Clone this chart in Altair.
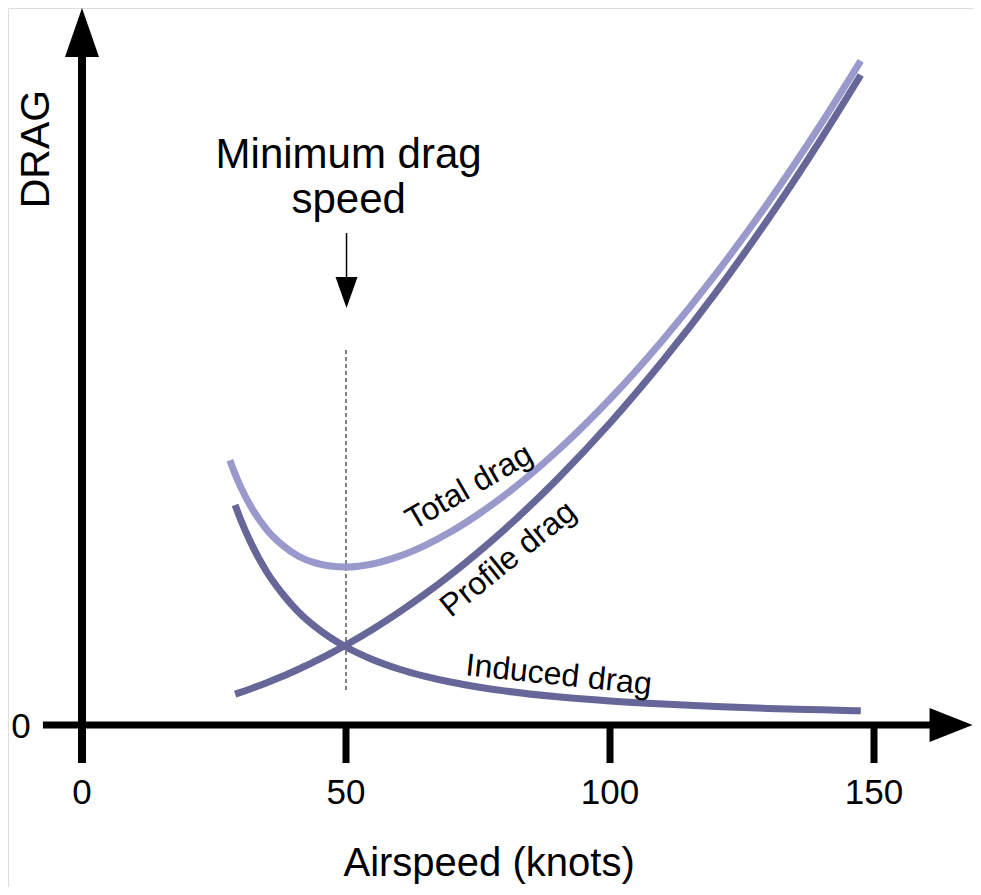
import altair as alt
import pandas as pd

# ---------------- data (arbitrary drag units) ----------------
speed_iv = [29, 30, 32, 35, 38, 41, 44, 47, 50, 55, 60, 65, 70, 75, 80, 90, 100, 110, 120, 130, 140, 147.5]
induced_drag = [220, 206, 182, 153, 131, 113, 99, 87.5, 78, 65.5, 56, 48.6, 42.7, 38, 34.1, 28.2, 24, 20.9, 18.5, 16.6, 15.2, 14.2]
profile_drag = [30.9, 32.6, 36.3, 42.3, 48.7, 55.8, 63.3, 71.4, 80, 95.5, 112.6, 131.1, 151, 172.5, 195.4, 245.8, 302, 364.2, 432.2, 506.2, 586.2, 650]
speed_total = [28, 29, 30, 32, 35, 38, 41, 44, 47, 50, 55, 60, 65, 70, 75, 80, 90, 100, 110, 120, 130, 140, 147.5]
total_drag = [264.7, 250.9, 238.6, 218.3, 195.3, 179.7, 168.8, 162.3, 158.9, 158, 161, 168.6, 179.7, 193.7, 210.5, 229.5, 274, 326, 385.1, 450.7, 522.8, 601.4, 664.2]

tick_values = [0, 50, 100, 150]
tick_labels = ["0", "50", "100", "150"]
min_drag_speed = 50

# ---------------- layout ----------------
W, H = 965, 879
PPK = 5.28            # pixels per knot
X0 = 74               # plot-x of 0 knots
Y0 = 717              # plot-y of 0 drag
x_dom = [-X0 / PPK, (W - X0) / PPK]
y_dom = [Y0 - H, Y0]

xs = alt.Scale(domain=x_dom, nice=False, zero=False)
ys = alt.Scale(domain=y_dom, nice=False, zero=False)

FONT = "Liberation Sans"
DARK = "#666699"
LIGHT = "#9999cc"

rows = []
for s, d in zip(speed_total, total_drag):
    rows.append({"speed": s, "drag": d, "series": "Total drag"})
for s, d in zip(speed_iv, profile_drag):
    rows.append({"speed": s, "drag": d, "series": "Profile drag"})
for s, d in zip(speed_iv, induced_drag):
    rows.append({"speed": s, "drag": d, "series": "Induced drag"})
curves = pd.DataFrame(rows)

lines = alt.Chart(curves).mark_line(strokeWidth=7, strokeCap="butt", interpolate="monotone").encode(
    x=alt.X("speed:Q", scale=xs, axis=None),
    y=alt.Y("drag:Q", scale=ys, axis=None),
    color=alt.Color("series:N", scale=alt.Scale(domain=["Total drag", "Profile drag", "Induced drag"],
                                                range=[LIGHT, DARK, DARK]), legend=None),
    detail="series:N",
)


def vrule(x, y, y2, width, color="black", dash=None):
    kw = dict(strokeWidth=width, color=color, strokeCap="butt")
    if dash:
        kw["strokeDash"] = dash
    return alt.Chart(pd.DataFrame({"x": [x], "y": [y], "y2": [y2]})).mark_rule(**kw).encode(
        x=alt.X("x:Q", scale=xs, axis=None), y=alt.Y("y:Q", scale=ys, axis=None), y2="y2:Q")


def hrule(x, x2, y, width):
    return alt.Chart(pd.DataFrame({"x": [x], "x2": [x2], "y": [y]})).mark_rule(
        strokeWidth=width, color="black", strokeCap="butt").encode(
        x=alt.X("x:Q", scale=xs, axis=None), x2="x2:Q", y=alt.Y("y:Q", scale=ys, axis=None))


def head(x, y, shape, size):
    return alt.Chart(pd.DataFrame({"x": [x], "y": [y]})).mark_point(
        shape=shape, size=size, filled=True, color="black", opacity=1, strokeWidth=0).encode(
        x=alt.X("x:Q", scale=xs, axis=None), y=alt.Y("y:Q", scale=ys, axis=None))


def label(text, x, y, size, angle=0, align="center", baseline="middle"):
    return alt.Chart(pd.DataFrame({"x": [x], "y": [y], "t": [text]})).mark_text(
        font=FONT, fontSize=size, angle=angle, align=align, baseline=baseline, color="black").encode(
        x=alt.X("x:Q", scale=xs, axis=None), y=alt.Y("y:Q", scale=ys, axis=None), text="t:N")


layers = []
# axes
layers.append(vrule(0, -38, 690, 8))
layers.append(hrule(-7.4, 164, 0, 7))
ticks_df = pd.DataFrame({"x": tick_values[1:], "y": [-38] * 3, "y2": [0] * 3})
layers.append(alt.Chart(ticks_df).mark_rule(strokeWidth=7, color="black", strokeCap="butt").encode(
    x=alt.X("x:Q", scale=xs, axis=None), y=alt.Y("y:Q", scale=ys, axis=None), y2="y2:Q"))
layers.append(head(0, 692.5, "M-0.694,1L0.694,1L0,-1Z", 2401))
layers.append(head(164.6, 0, "M-1,-0.79L1,0L-1,0.79Z", 1849))

# min drag marker
layers.append(vrule(min_drag_speed, 35, 378, 1, dash=[4, 3]))
layers.append(vrule(min_drag_speed + 0.1, 445, 492, 1.5))
layers.append(head(min_drag_speed + 0.1, 432.5, "M-0.71,-1L0.71,-1L0,1Z", 961))

layers.append(lines)

# tick labels
tl_df = pd.DataFrame({"x": tick_values, "y": [-68] * 4, "t": tick_labels})
layers.append(alt.Chart(tl_df).mark_text(font=FONT, fontSize=35, baseline="middle", align="center",
                                         color="black").encode(
    x=alt.X("x:Q", scale=xs, axis=None), y=alt.Y("y:Q", scale=ys, axis=None), text="t:N"))
layers.append(label("0", -11.55, -2, 35))

# titles
layers.append(label("Airspeed (knots)", 77.1, -151, 40, baseline="alphabetic"))
layers.append(label("DRAG", -8.43, 576, 41, angle=270))
layers.append(label("Minimum drag", 50.5, 557, 42, baseline="alphabetic"))
layers.append(label("speed", 50.5, 512, 42, baseline="alphabetic"))

# curve labels
layers.append(label("Total drag", 73.3, 238, 32, angle=330))
layers.append(label("Profile drag", 80.7, 166, 32, angle=321))
layers.append(label("Induced drag", 90.3, 50, 32, angle=6))

chart = alt.layer(*layers).properties(
    width=W, height=H,
    autosize=alt.AutoSizeParams(type="none"),
    padding=0,
).configure_view(stroke=None).configure(background="white")

chart.save("out.html", embed_options={"renderer": "svg", "actions": False})
